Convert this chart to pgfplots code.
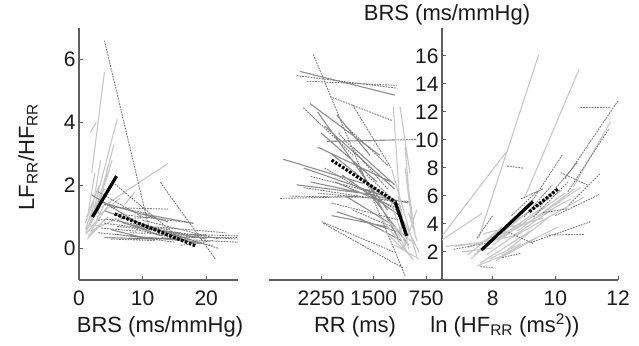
\documentclass[border=0pt]{standalone}
\usepackage{fontspec}
\setmainfont{Liberation Sans}
\usepackage{pgfplots}
\pgfplotsset{compat=1.18}
\definecolor{lightg}{HTML}{C8C8C8}
\definecolor{midg}{HTML}{8E8E8E}
\definecolor{dashg}{HTML}{7E7E7E}
\definecolor{axisg}{HTML}{5E5E5E}
\definecolor{txt}{HTML}{1A1A1A}
\newcommand\bigfont{\fontsize{22bp}{26bp}\selectfont}
\newcommand\tickfont{\fontsize{21bp}{25bp}\selectfont}
\pgfplotsset{
  L/.style={color=lightg, line width=1.1bp, unbounded coords=jump, forget plot},
  M/.style={color=midg, line width=1.1bp, unbounded coords=jump, forget plot},
  D/.style={color=dashg, line width=0.9bp, dash pattern=on 1.8bp off 1bp, unbounded coords=jump, forget plot},
  K/.style={color=black, line width=3.2bp, forget plot},
  KD/.style={color=black, line width=3.2bp, dash pattern=on 2.6bp off 1.6bp, forget plot},
  panel/.style={scale only axis, height=252bp, anchor=south west,
    tick align=inside, major tick length=4bp,
    axis line style={draw=axisg, line width=1.4bp},
    tick style={draw=axisg, line width=1bp},
    /pgf/number format/assume math mode=true,
    /pgf/number format/1000 sep={},
    scaled ticks=false,
    ticklabel style={font=\tickfont, text=txt},
    xticklabel style={yshift=-7bp},
  },
}
\begin{document}
\begin{tikzpicture}[font=\bigfont]
\path[use as bounding box] (0,0) rectangle (639bp,346bp);
% ---------------- left panel ----------------
\begin{axis}[panel, at={(79bp,66bp)}, width=159bp,
  xmin=0, xmax=25, ymin=-1, ymax=7, xtick={0,10,20}, ytick={0,2,4,6},
  axis x line*=bottom, axis y line*=left]
\addplot[L] table[row sep=\\]{x y\\
2.0 2.4\\ 4.0 5.6\\ nan nan\\
1.8 3.7\\ 2.7 4.0\\ nan nan\\
2.4 1.3\\ 6.0 4.1\\ nan nan\\
2.6 1.1\\ 5.5 3.3\\ nan nan\\
2.2 0.9\\ 5.2 2.8\\ nan nan\\
1.8 0.8\\ 4.8 2.5\\ nan nan\\
1.5 0.7\\ 4.2 2.2\\ nan nan\\
1.2 0.6\\ 3.6 1.6\\ nan nan\\
1.0 0.5\\ 3.0 1.2\\ nan nan\\
1.4 0.4\\ 4.5 1.0\\ nan nan\\
3.5 1.3\\ 14.0 2.7\\ nan nan\\
7.2 1.4\\ 8.8 1.8\\ nan nan\\
1.0 0.8\\ 2.6 1.7\\ nan nan\\
1.2 1.0\\ 3.2 2.0\\ nan nan\\
2.0 0.6\\ 5.0 1.5\\ nan nan\\
1.3 0.3\\ 3.6 0.8\\ nan nan\\
1.6 0.9\\ 4.0 1.9\\ nan nan\\
2.8 1.0\\ 6.5 1.6\\ nan nan\\
1.1 0.45\\ 2.8 0.9\\ nan nan\\
2.0 1.1\\ 3.4 2.8\\ nan nan\\
1.7 0.55\\ 5.5 0.9\\ nan nan\\
1.0 0.6\\ 2.2 1.3\\ nan nan\\
2.5 0.8\\ 4.0 1.4\\ nan nan\\
3.0 1.1\\ 4.5 2.6\\ nan nan\\
1.5 1.2\\ 2.5 2.4\\ nan nan\\
1.2 0.7\\ 4.0 0.75\\
};
\addplot[M] table[row sep=\\]{x y\\
2.0 1.7\\ 11.0 0.6\\ nan nan\\
4.0 1.2\\ 17.0 0.25\\ nan nan\\
6.0 0.9\\ 13.0 0.4\\ nan nan\\
3.0 1.5\\ 14.0 0.85\\ nan nan\\
10.0 1.1\\ 18.0 0.8\\ nan nan\\
7.0 0.8\\ 20.0 0.3\\ nan nan\\
5.0 0.6\\ 11.0 0.3\\ nan nan\\
8.0 0.4\\ 19.0 0.2\\ nan nan\\
4.0 0.35\\ 12.0 0.3\\
};
\addplot[D] table[row sep=\\]{x y\\
4.0 6.6\\ 11.2 0.5\\ nan nan\\
12.8 2.1\\ 21.5 -0.35\\ nan nan\\
5.6 2.05\\ 16.0 0.3\\ nan nan\\
3.0 1.8\\ 10.0 1.0\\ nan nan\\
5.0 1.3\\ 14.0 1.25\\ nan nan\\
6.0 1.1\\ 18.0 0.8\\ nan nan\\
8.0 0.5\\ 25.0 0.4\\ nan nan\\
10.0 0.35\\ 25.0 0.2\\ nan nan\\
12.0 0.45\\ 25.0 0.3\\ nan nan\\
4.0 0.8\\ 16.0 0.5\\ nan nan\\
3.0 0.5\\ 13.0 0.3\\ nan nan\\
5.0 0.3\\ 12.0 0.25\\ nan nan\\
7.0 1.0\\ 17.0 0.3\\ nan nan\\
14.0 0.5\\ 22.0 0.0\\ nan nan\\
9.0 0.6\\ 19.0 0.15\\ nan nan\\
3.0 0.9\\ 12.0 1.0\\ nan nan\\
15.0 0.3\\ 20.0 0.45\\ nan nan\\
16.0 0.1\\ 21.0 0.25\\ nan nan\\
4.0 1.4\\ 11.0 1.1\\ nan nan\\
6.0 0.45\\ 15.0 0.2\\ nan nan\\
11.0 0.7\\ 23.0 0.5\\ nan nan\\
13.0 0.35\\ 21.0 0.1\\ nan nan\\
5.0 0.9\\ 14.0 0.6\\ nan nan\\
8.0 0.3\\ 18.0 0.35\\ nan nan\\
6.0 0.7\\ 20.0 0.4\\ nan nan\\
18.0 0.35\\ 25.0 0.35\\ nan nan\\
10.0 0.9\\ 22.0 0.3\\ nan nan\\
3.5 0.65\\ 9.0 0.55\\
};
\addplot[K] coordinates {(2.1,1.0) (5.9,2.3)};
\addplot[KD] coordinates {(5.6,1.1) (18.4,0.08)};
\end{axis}
% ---------------- middle panel ----------------
\begin{axis}[panel, at={(268.6bp,66bp)}, width=175bp,
  xmin=500, xmax=3000, x dir=reverse, ymin=0, ymax=18,
  xtick={750,1500,2250}, ytick=\empty,
  axis x line*=bottom, axis y line=none]
\addplot[M] table[row sep=\\]{x y\\
2551 14.9\\ 1194 13.2\\ nan nan\\
2409 12.6\\ 1409 8.9\\ nan nan\\
2027 11.8\\ 1551 8.9\\ nan nan\\
2170 9.9\\ 1200 10.0\\ nan nan\\
2790 8.62\\ 1647 6.9\\ nan nan\\
2027 4.88\\ 1170 3.45\\ nan nan\\
2300 12.0\\ 1300 5.0\\ nan nan\\
2200 11.0\\ 1200 6.5\\ nan nan\\
2100 9.0\\ 1100 5.0\\ nan nan\\
2400 7.0\\ 1000 5.5\\ nan nan\\
2500 8.0\\ 1350 6.0\\ nan nan\\
1800 9.5\\ 1200 6.8\\ nan nan\\
1950 7.5\\ 1100 4.5\\ nan nan\\
2100 4.6\\ 1300 3.8\\ nan nan\\
2600 6.8\\ 1500 6.1\\ nan nan\\
1700 8.0\\ 1150 3.0\\ nan nan\\
2250 10.5\\ 1450 7.0\\ nan nan\\
1600 6.5\\ 1000 2.5\\ nan nan\\
2300 9.5\\ 1250 7.0\\ nan nan\\
2050 7.0\\ 1200 5.2\\ nan nan\\
1700 4.4\\ 1100 2.8\\ nan nan\\
1900 6.0\\ 1250 4.0\\
};
\addplot[D] table[row sep=\\]{x y\\
2360 16.1\\ 1050 0.3\\ nan nan\\
2600 14.6\\ 1170 13.7\\ nan nan\\
2455 14.2\\ 1170 13.9\\ nan nan\\
2123 13.1\\ 1241 11.4\\ nan nan\\
2504 12.3\\ 1790 8.9\\ nan nan\\
2837 5.83\\ 1741 5.95\\ nan nan\\
2241 4.17\\ 1218 2.02\\ nan nan\\
2219 4.05\\ 1076 0.84\\ nan nan\\
1200 10.0\\ 880 10.05\\ nan nan\\
2400 7.4\\ 1300 6.0\\ nan nan\\
2500 6.6\\ 1200 5.6\\ nan nan\\
2000 10.5\\ 1300 6.5\\ nan nan\\
1900 11.0\\ 1300 8.2\\ nan nan\\
2200 8.0\\ 1100 4.8\\ nan nan\\
1800 5.0\\ 1100 3.5\\ nan nan\\
2300 6.2\\ 1000 5.6\\ nan nan\\
1600 7.5\\ 1100 5.2\\ nan nan\\
2100 5.5\\ 1150 4.3\\ nan nan\\
1800 12.5\\ 1250 8.0\\ nan nan\\
2700 6.0\\ 1600 5.9\\
};
\addplot[L] table[row sep=\\]{x y\\
1218 12.4\\ 1099 3.3\\ nan nan\\
1241 7.9\\ 884 1.7\\ nan nan\\
1123 12.4\\ 980 7.6\\ nan nan\\
1050 9.5\\ 1000 6.5\\ nan nan\\
1409 4.5\\ 933 1.43\\ nan nan\\
884 5.0\\ 1076 2.1\\ nan nan\\
1100 4.5\\ 850 2.0\\ nan nan\\
1300 4.2\\ 900 2.5\\ nan nan\\
1200 3.8\\ 1000 1.8\\ nan nan\\
1000 4.8\\ 880 2.8\\ nan nan\\
1150 6.0\\ 1000 2.2\\ nan nan\\
1350 3.5\\ 950 1.6\\ nan nan\\
1050 8.0\\ 950 4.0\\ nan nan\\
1250 5.5\\ 1050 2.6\\ nan nan\\
1000 6.5\\ 900 3.0\\ nan nan\\
1200 2.5\\ 850 1.5\\
};
\addplot[KD] coordinates {(2100,8.57) (1194,5.6)};
\addplot[K] coordinates {(1194,5.6) (1027,3.15)};
\end{axis}
% ---------------- right panel ----------------
\begin{axis}[panel, at={(442bp,66bp)}, width=176bp,
  xmin=6.38, xmax=12, ymin=0, ymax=18,
  xtick={8,10,12}, ytick={2,4,...,16},
  axis x line*=bottom, axis y line*=left]
\addplot[L] table[row sep=\\]{x y\\
6.4 3.2\\ 8.45 9.2\\ nan nan\\
7.55 3.0\\ 9.47 16.1\\ nan nan\\
9.0 5.8\\ 10.75 15.0\\ nan nan\\
10.58 6.67\\ 11.76 11.3\\ nan nan\\
6.38 2.86\\ 7.66 4.76\\ nan nan\\
7.3 1.5\\ 9.3 5.5\\ nan nan\\
7.5 2.0\\ 9.8 6.0\\ nan nan\\
7.2 2.3\\ 9.0 4.0\\ nan nan\\
7.6 1.2\\ 9.2 3.5\\ nan nan\\
7.8 1.8\\ 10.0 5.2\\ nan nan\\
8.0 2.5\\ 10.3 6.2\\ nan nan\\
7.4 2.6\\ 8.8 3.2\\ nan nan\\
8.2 3.0\\ 10.5 5.8\\ nan nan\\
7.9 1.5\\ 8.9 2.6\\ nan nan\\
8.5 2.2\\ 9.8 4.5\\ nan nan\\
7.7 3.3\\ 9.6 4.4\\ nan nan\\
6.8 2.4\\ 8.2 2.9\\ nan nan\\
8.3 1.8\\ 10.1 3.8\\ nan nan\\
7.5 1.0\\ 8.6 2.0\\ nan nan\\
8.8 3.5\\ 10.6 6.5\\ nan nan\\
9.2 4.2\\ 10.8 6.6\\ nan nan\\
7.2 1.8\\ 8.3 3.8\\ nan nan\\
6.5 2.4\\ 7.7 2.7\\ nan nan\\
7.4 1.8\\ 9.6 5.2\\ nan nan\\
7.6 2.6\\ 10.2 6.4\\ nan nan\\
8.1 1.4\\ 9.4 3.0\\ nan nan\\
7.0 2.0\\ 8.0 2.3\\ nan nan\\
8.6 3.0\\ 10.9 5.9\\
};
\addplot[D] table[row sep=\\]{x y\\
10.8 12.33\\ 11.76 12.33\\ nan nan\\
12.0 12.8\\ 10.3 7.2\\ nan nan\\
11.7 10.76\\ 10.4 6.3\\ nan nan\\
8.46 8.14\\ 9.0 7.98\\ nan nan\\
10.17 7.67\\ 11.02 6.79\\ nan nan\\
9.69 3.21\\ 10.91 3.26\\ nan nan\\
9.21 2.67\\ 11.13 4.17\\ nan nan\\
6.75 2.19\\ 7.77 2.62\\ nan nan\\
10.43 5.36\\ 11.44 7.62\\ nan nan\\
9.21 5.48\\ 10.22 8.93\\ nan nan\\
9.5 5.2\\ 10.7 8.4\\ nan nan\\
8.9 5.8\\ 9.6 6.5\\ nan nan\\
7.6 0.95\\ 8.0 0.9\\ nan nan\\
9.3 4.5\\ 10.4 7.0\\ nan nan\\
8.6 4.6\\ 9.4 6.3\\ nan nan\\
7.5 3.0\\ 8.0 4.6\\ nan nan\\
9.6 4.8\\ 10.4 5.1\\ nan nan\\
8.5 3.4\\ 9.3 2.6\\ nan nan\\
8.3 1.6\\ 8.9 1.9\\ nan nan\\
9.0 4.5\\ 9.9 6.8\\ nan nan\\
10.0 4.6\\ 11.4 6.1\\
};
\addplot[K] coordinates {(7.64,2.14) (9.28,5.6)};
\addplot[KD] coordinates {(9.17,4.88) (10.11,6.55)};
\end{axis}
% ---------------- labels ----------------
\node[anchor=base, text=txt] at (160bp,14bp) {BRS (ms/mmHg)};
\node[anchor=base, text=txt] at (355bp,14bp) {RR (ms)};
\node[anchor=base, text=txt] at (505bp,14bp) {ln (HF\textsubscript{RR} (ms\textsuperscript{2}))};
\node[anchor=base, text=txt] at (447bp,325bp) {BRS (ms/mmHg)};
\node[rotate=90, text=txt] at (28bp,189bp) {LF\textsubscript{RR}/HF\textsubscript{RR}};
\end{tikzpicture}
\end{document}
